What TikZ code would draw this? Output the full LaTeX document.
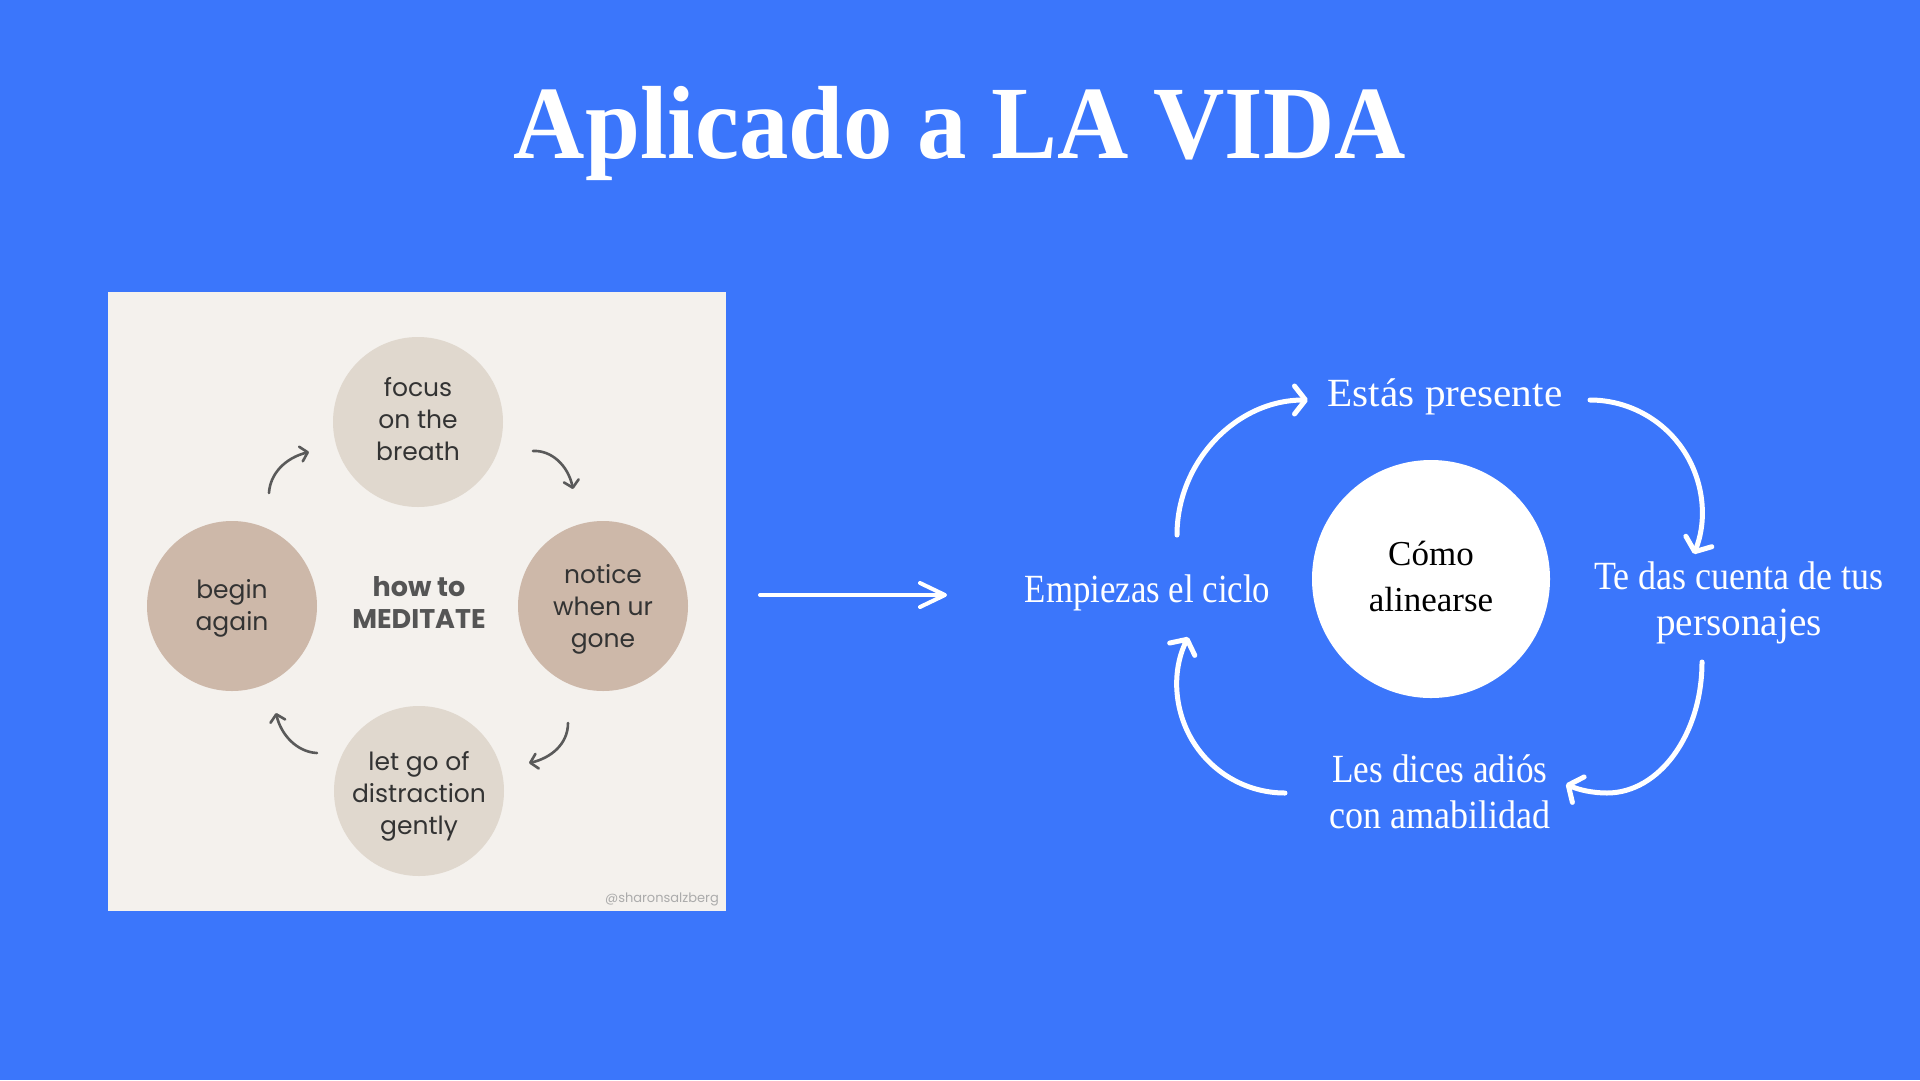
\documentclass[tikz,border=0pt]{standalone}
\usepackage{fontspec}
\usepackage{graphicx}
\usetikzlibrary{arrows.meta}
\setmainfont{Liberation Serif}
\newfontfamily\popfont{Poppins}
\definecolor{bgblue}{HTML}{3B76FB}
\definecolor{photobg}{HTML}{F4F1ED}
\definecolor{lightc}{HTML}{E0D8CE}
\definecolor{darkc}{HTML}{CDB8A9}
\definecolor{inktext}{HTML}{333333}
\definecolor{arrowgray}{HTML}{5A5A5A}
\definecolor{midgray}{HTML}{555555}
\definecolor{wmgray}{HTML}{ABABAB}
\newcommand{\sx}[2]{\scalebox{#1}[1]{#2}}
\begin{document}
\begin{tikzpicture}[x=1pt,y=-1pt,
  photobox/.style={rectangle, fill=photobg, minimum width=618pt, minimum height=619pt, inner sep=0pt},
  pcircle/.style={circle, minimum size=170pt, inner sep=0pt},
  ptext/.style={font=\popfont\fontsize{25}{32}\selectfont, text=inktext, align=center, anchor=base, inner sep=0pt},
  phead/.style={font=\popfont\bfseries\fontsize{27}{32}\selectfont, text=midgray, align=center, anchor=base, inner sep=0pt},
  wmark/.style={font=\popfont\fontsize{13}{15}\selectfont, text=wmgray, anchor=base east, inner sep=0pt},
  parrow/.style={draw=arrowgray, line width=2.6pt, line cap=round, -{Straight Barb[length=7pt,width=15pt,round]}},
  harrow/.style={draw=white, line width=4pt, line cap=round, -{Straight Barb[length=25pt,width=24pt,round]}},
  wharc/.style={draw=white, line width=5pt, line cap=round, -{Straight Barb[length=11pt,width=28pt,round]}},
  corecircle/.style={circle, fill=white, minimum size=238pt, inner sep=0pt},
  coretext/.style={font=\fontsize{35}{46}\selectfont, text=black, align=center, anchor=base, inner sep=0pt},
  wlabel/.style={font=\fontsize{40}{46}\selectfont, text=white, align=center, anchor=base, inner sep=0pt},
  titletext/.style={font=\bfseries\fontsize{104}{110}\selectfont, text=white, anchor=base, inner sep=0pt}
]
\fill[bgblue] (0,0) rectangle (1920,1080);
\useasboundingbox (0,0) rectangle (1920,1080);

% title
\node[titletext] (title) at (960,158) {\sx{0.95}{Aplicado a LA VIDA}};

% left picture (multi-line nodes are anchored at the baseline of their last line)
\node[photobox] (photo) at (417,601.5) {};
\node[pcircle, fill=lightc] (cfocus) at (418,422) {};
\node[pcircle, fill=darkc] (cbegin) at (232,606) {};
\node[pcircle, fill=darkc] (cnotice) at (603,606) {};
\node[pcircle, fill=lightc] (clet) at (419,791) {};
\node[ptext] (tfocus) at (418,460) {focus\\on the\\breath};
\node[ptext] (tbegin) at (232,630) {begin\\again};
\node[ptext] (tnotice) at (603,647) {notice\\when ur\\gone};
\node[ptext] (tlet) at (419,834) {let go of\\distraction\\gently};
\node[phead] (thow) at (419,628) {how to\\MEDITATE};
\node[wmark] (wm) at (719,902) {@sharonsalzberg};

\coordinate (p1s) at (269,493); \coordinate (p1e) at (309,452);
\coordinate (p2s) at (533,451); \coordinate (p2e) at (573,489);
\coordinate (p3s) at (568,723); \coordinate (p3e) at (529,763);
\coordinate (p4s) at (317,753); \coordinate (p4e) at (276,713);
\draw[parrow] (p1s) .. controls (270,474) and (285,458) .. (p1e);
\draw[parrow] (p2s) .. controls (551,450) and (568,465) .. (p2e);
\draw[parrow] (p3s) .. controls (568,744) and (551,758) .. (p3e);
\draw[parrow] (p4s) .. controls (297,752) and (281,735) .. (p4e);

% middle arrow
\coordinate (hs) at (760,595);
\coordinate (he) at (947,595);
\draw[harrow] (hs) -- (he);

% right cycle
\node[corecircle] (core) at (1431,579) {};
\node[coretext] (coret) at (1431,611) {Cómo\\alinearse};
\node[wlabel] (lestas) at (1445,406) {\sx{1.03}{Estás presente}};
\node[wlabel] (lempieza) at (1147.5,602) {\sx{0.87}{Empiezas el ciclo}};
\node[wlabel] (lte) at (1739,635) {\sx{0.90}{Te das cuenta de tus}\\\sx{0.98}{personajes}};
\node[wlabel] (lles) at (1440,828) {\sx{0.88}{Les dices adiós}\\\sx{0.90}{con amabilidad}};

\coordinate (a1s) at (1177,535); \coordinate (a1e) at (1308,400);
\coordinate (a2s) at (1590,400); \coordinate (a2e) at (1693.8,554);
\coordinate (a3s) at (1702,662); \coordinate (a3e) at (1566,784);
\coordinate (a4s) at (1285,793); \coordinate (a4e) at (1188.2,637.1);
\draw[wharc] (a1s) .. controls (1177,462) and (1236,400) .. (a1e);
\draw[wharc] (a2s) .. controls (1627.2,400) and (1662.1,418.6) .. (1682.9,449.4)
                   .. controls (1703.7,480.2) and (1707.7,519.5) .. (a2e);
\draw[wharc] (a3s) .. controls (1702,734) and (1659.5,793) .. (1607,793)
                   .. controls (1593,793) and (1579,790) .. (a3e);
\draw[wharc] (a4s) .. controls (1247.65,793) and (1213.0,773.7) .. (1193.3,742.0)
                   .. controls (1173.6,710.3) and (1171.7,670.6) .. (a4e);
\end{tikzpicture}
\end{document}
